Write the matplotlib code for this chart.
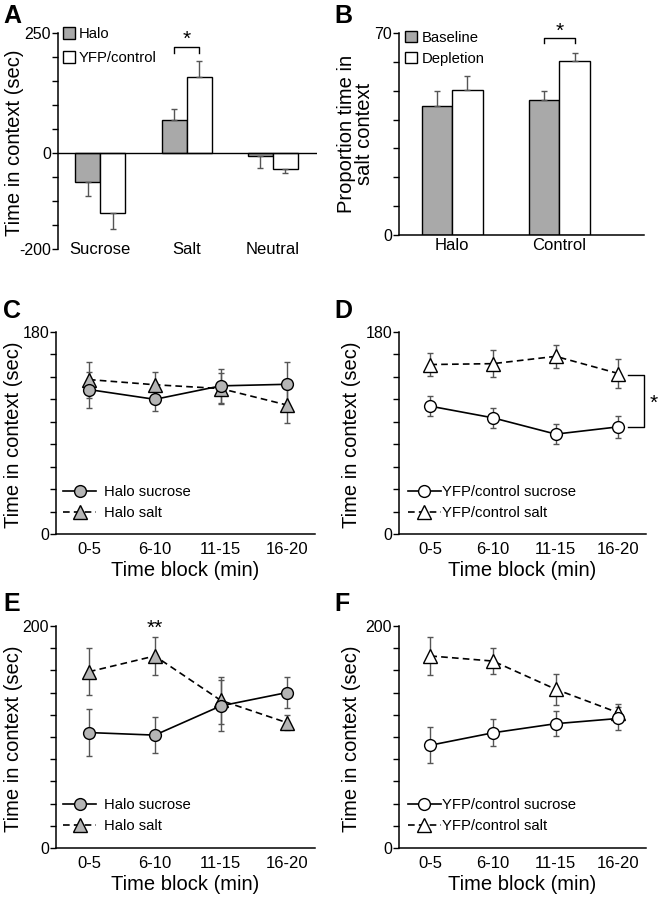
import matplotlib.pyplot as plt
import numpy as np
from matplotlib.patches import Patch
from matplotlib.lines import Line2D

plt.rcParams['font.family'] = ['Liberation Sans', 'DejaVu Sans']

# panel A: time in context, Halo vs YFP/control
a_groups = ['Sucrose', 'Salt', 'Neutral']
a_halo = [-61, 69, -7]
a_halo_sem = [29, 23, 24]
a_yfp = [-124, 158, -33]
a_yfp_sem = [34, 34, 9]

# panel B: proportion time in salt context
b_groups = ['Halo', 'Control']
b_base = [44.7, 46.8]
b_base_sem = [5.3, 3.1]
b_depl = [50.2, 60.3]
b_depl_sem = [5.0, 2.9]

blocks = ['0-5', '6-10', '11-15', '16-20']
# panel C (Halo)
c_suc = [128.7, 120, 132, 133.4]
c_suc_sem = [16, 10, 15, 20]
c_salt = [137.6, 133, 129.6, 115]
c_salt_sem = [16, 11, 14, 16]
# panel D (YFP/control)
d_suc = [113.9, 103.5, 89, 95.5]
d_suc_sem = [9, 9, 9, 10]
d_salt = [151, 151.8, 158.3, 143]
d_salt_sem = [10.5, 12, 10.5, 13]
# panel E (Halo)
e_suc = [104, 101.7, 128, 140]
e_suc_sem = [21, 16, 23, 14]
e_salt = [158.8, 173, 133, 113]
e_salt_sem = [21, 17, 21, 7]
# panel F (YFP/control)
f_suc = [92.6, 103.8, 112, 116.7]
f_suc_sem = [16, 12, 11, 10]
f_salt = [173, 168.4, 143, 121.8]
f_salt_sem = [17, 12, 14, 8]

GRAY = '#a9a9a9'
ECOL = '#555555'
W, H = 662, 899

fig = plt.figure(figsize=(W / 100, H / 100), dpi=100)


def px_axes(l, t, r, b):
    return fig.add_axes([l / W, 1 - b / H, (r - l) / W, (b - t) / H])


def style(ax, ticks, labeled):
    for s in ['top', 'right']:
        ax.spines[s].set_visible(False)
    ax.spines['left'].set_linewidth(1.1)
    ax.spines['bottom'].set_linewidth(1.1)
    ax.set_yticks(ticks)
    ax.set_yticklabels([str(t) if t in labeled else '' for t in ticks])
    ax.tick_params(axis='y', direction='out', length=4, width=1, labelsize=11.5, pad=1)
    ax.tick_params(axis='x', length=0, labelsize=12)


def one_sided(mean, sem):
    lo = [s if m < 0 else 0 for m, s in zip(mean, sem)]
    hi = [s if m >= 0 else 0 for m, s in zip(mean, sem)]
    return [lo, hi]


def bars(ax, groups, m1, e1, m2, e2, w):
    x = np.arange(len(groups))
    ekw = dict(ecolor=ECOL, elinewidth=1, capsize=2.5, capthick=1)
    ax.bar(x - w / 2, m1, w, color=GRAY, edgecolor='k', lw=1,
           yerr=one_sided(m1, e1), error_kw=ekw)
    ax.bar(x + w / 2, m2, w, color='white', edgecolor='k', lw=1,
           yerr=one_sided(m2, e2), error_kw=ekw)
    return x


def bar_legend(ax, labels, anchor, spacing):
    hs = [Patch(facecolor=GRAY, edgecolor='k', lw=1),
          Patch(facecolor='white', edgecolor='k', lw=1)]
    ax.legend(hs, labels, loc='upper left', bbox_to_anchor=anchor, frameon=False,
              fontsize=10.7, handlelength=0.8, handleheight=0.8,
              handletextpad=0.3, labelspacing=spacing, borderaxespad=0)


def lines(ax, suc, suc_sem, salt, salt_sem, fill, labels, pad, anchor):
    x = np.arange(len(blocks))
    common = dict(color='k', lw=1.2, mfc=fill, mec='k', mew=1,
                  ecolor=ECOL, elinewidth=1, capsize=2.5, capthick=1)
    ax.errorbar(x, salt, yerr=salt_sem, fmt='--^', ms=9.5, dashes=(4, 2.5), **common)
    ax.errorbar(x, suc, yerr=suc_sem, fmt='-o', ms=8.5, **common)
    ax.set_xticks(x)
    ax.set_xticklabels(blocks)
    ax.tick_params(axis='x', pad=5.5)
    ax.set_xlabel('Time block (min)', fontsize=14.5, labelpad=3)
    ax.set_ylabel('Time in context (sec)', fontsize=14.5)
    hs = [Line2D([], [], color='k', lw=1.2, marker='o', ms=8.5, mfc=fill, mec='k'),
          Line2D([], [], color='k', lw=1.2, ls='--', dashes=(4, 2.5), marker='^',
                 ms=9.5, mfc=fill, mec='k')]
    ax.legend(hs, labels, loc='lower left', bbox_to_anchor=anchor, frameon=False,
              fontsize=10.7, handlelength=2.2, handletextpad=pad,
              labelspacing=0.45, borderaxespad=0)


# ---- A ----
axA = px_axes(58, 33, 317, 249)
x = bars(axA, a_groups, a_halo, a_halo_sem, a_yfp, a_yfp_sem, 0.29)
axA.set_xlim(-0.49, 2.51)
axA.set_ylim(-200, 250)
style(axA, np.arange(-200, 251, 50), [-200, 0, 250])
axA.spines['bottom'].set_visible(False)
axA.axhline(0, color='k', lw=1)
axA.set_xticks([])
for xi, g in zip(x, a_groups):
    axA.text(xi, 0, g, transform=axA.get_xaxis_transform(), ha='center',
             va='center', fontsize=12)
axA.set_ylabel('Time in context (sec)', fontsize=14.5)
axA.yaxis.set_label_coords(-0.133, 0.49)
bar_legend(axA, ['Halo', 'YFP/control'], (-0.005, 1.055), 0.68)
axA.plot([1 - 0.145, 1 - 0.145, 1 + 0.145, 1 + 0.145], [208, 221, 221, 208],
         color='k', lw=1, clip_on=False)
axA.text(1, 217, '*', ha='center', va='bottom', fontsize=15)

# ---- B ----
axB = px_axes(399, 33, 644, 235)
x = bars(axB, b_groups, b_base, b_base_sem, b_depl, b_depl_sem, 0.285)
axB.set_xlim(-0.495, 1.79)
axB.set_ylim(0, 70)
style(axB, np.arange(0, 71, 10), [0, 70])
axB.set_xticks(x)
axB.set_xticklabels(b_groups)
axB.tick_params(axis='x', pad=2)
axB.set_ylabel('Proportion time in\nsalt context', fontsize=14.5, linespacing=0.95)
axB.yaxis.set_label_coords(-0.10, 0.5)
bar_legend(axB, ['Baseline', 'Depletion'], (0.0, 1.04), 0.45)
axB.plot([1 - 0.1425, 1 - 0.1425, 1 + 0.1425, 1 + 0.1425], [66.5, 68.3, 68.3, 66.5],
         color='k', lw=1, clip_on=False)
axB.text(1, 67.4, '*', ha='center', va='bottom', fontsize=15)

# ---- C ----
axC = px_axes(56, 332, 315, 534)
lines(axC, c_suc, c_suc_sem, c_salt, c_salt_sem, '#b5b5b5',
      ['Halo sucrose', 'Halo salt'], 0.55, (0.005, 0.04))
axC.set_xlim(-0.5, 3.43)
axC.set_ylim(0, 180)
style(axC, np.arange(0, 181, 20), [0, 180])
axC.yaxis.set_label_coords(-0.128, 0.49)

# ---- D ----
axD = px_axes(399, 332, 646, 534)
lines(axD, d_suc, d_suc_sem, d_salt, d_salt_sem, 'white',
      ['YFP/control sucrose', 'YFP/control salt'], 0.1, (0.012, 0.04))
axD.set_xlim(-0.5, 3.44)
axD.set_ylim(0, 180)
style(axD, np.arange(0, 181, 20), [0, 180])
axD.yaxis.set_label_coords(-0.155, 0.49)
axD.plot([3.155, 3.41, 3.41, 3.155], [141.4, 141.4, 95.5, 95.5], color='k', lw=1,
         clip_on=False)
axD.text(3.57, 116, '*', ha='center', va='center', fontsize=15, clip_on=False)

# ---- E ----
axE = px_axes(56, 626, 315, 848)
lines(axE, e_suc, e_suc_sem, e_salt, e_salt_sem, '#b5b5b5',
      ['Halo sucrose', 'Halo salt'], 0.55, (0.005, 0.04))
axE.set_xlim(-0.5, 3.43)
axE.set_ylim(0, 200)
style(axE, np.arange(0, 201, 20), [0, 200])
axE.yaxis.set_label_coords(-0.128, 0.49)
axE.text(1, 189, '**', ha='center', va='bottom', fontsize=15, clip_on=False)

# ---- F ----
axF = px_axes(399, 626, 646, 848)
lines(axF, f_suc, f_suc_sem, f_salt, f_salt_sem, 'white',
      ['YFP/control sucrose', 'YFP/control salt'], 0.1, (0.012, 0.04))
axF.set_xlim(-0.5, 3.44)
axF.set_ylim(0, 200)
style(axF, np.arange(0, 201, 20), [0, 200])
axF.yaxis.set_label_coords(-0.155, 0.49)

for lab, px, py in [('A', 3, 4), ('B', 334, 4), ('C', 3, 299),
                    ('D', 334, 299), ('E', 3, 592), ('F', 334, 592)]:
    fig.text(px / W, 1 - py / H, lab, fontsize=18, fontweight='bold', va='top')

fig.savefig('out.png', dpi=100)
